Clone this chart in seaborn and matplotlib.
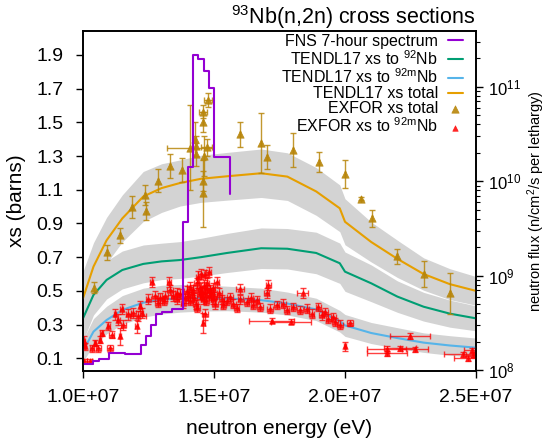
import numpy as np
import matplotlib
matplotlib.use('Agg')
import matplotlib.pyplot as plt
import seaborn as sns
from matplotlib.ticker import FuncFormatter, LogLocator, NullFormatter, MultipleLocator

# FNS 7-hour spectrum (bin edges in MeV, flux per lethargy)
fns_edges = [10.0, 10.4, 10.6, 11.0, 11.6, 12.2, 12.4, 12.6, 12.8, 13.0,
             13.4, 13.8, 14.0, 14.2, 14.4, 14.6, 14.8, 15.0, 15.6]
fns_flux = [1.16e8, 1.25e8, 1.32e8, 1.50e8, 1.46e8, 1.84e8, 2.29e8, 3.0e8,
            3.92e8, 4.15e8, 4.43e8, 3.72e9, 1.43e10, 2.17e11, 1.95e11,
            1.48e11, 9.6e10, 1.82e10, 7.4e9]

# TENDL17 curves (MeV, barns) and relative uncertainty
tendl_e = [10.0, 10.4, 10.9, 11.5, 12.3, 13.0, 13.7, 14.5, 15.5, 16.8,
           17.8, 18.9, 19.8, 20.0, 21.0, 22.0, 23.0, 24.0, 25.0]
xs_total = [0.456, 0.644, 0.80, 0.93, 1.06, 1.11, 1.14, 1.165, 1.18, 1.198,
            1.178, 1.09, 0.99, 0.91, 0.79, 0.69, 0.60, 0.54, 0.50]
xs_92 = [0.337, 0.476, 0.565, 0.624, 0.66, 0.675, 0.683, 0.70, 0.725, 0.753,
         0.75, 0.725, 0.664, 0.614, 0.545, 0.466, 0.406, 0.365, 0.337]
xs_92m = [0.145, 0.258, 0.327, 0.387, 0.43, 0.448, 0.456, 0.458, 0.455, 0.445,
          0.425, 0.39, 0.32, 0.295, 0.25, 0.22, 0.193, 0.176, 0.163]
unc_total = [0.35, 0.22, 0.17, 0.15, 0.14, 0.13, 0.12, 0.12, 0.12, 0.12,
             0.12, 0.13, 0.14, 0.15, 0.15, 0.16, 0.16, 0.17, 0.17]
unc_92 = [0.40, 0.25, 0.20, 0.18, 0.17, 0.16, 0.16, 0.16, 0.16, 0.16,
          0.16, 0.17, 0.18, 0.19, 0.20, 0.20, 0.21, 0.22, 0.22]
unc_92m = [0.45, 0.30, 0.25, 0.22, 0.20, 0.19, 0.18, 0.17, 0.16, 0.16,
           0.16, 0.17, 0.20, 0.22, 0.25, 0.28, 0.30, 0.33, 0.35]

# EXFOR total (MeV, barns, dxs, dE)
tot_e = [10.42, 10.90, 11.41, 11.87, 12.38, 12.40, 12.85, 13.32, 13.79, 14.08,
         14.27, 14.30, 14.30, 14.59, 14.78, 14.59, 14.72, 14.62, 14.59, 14.59,
         15.99, 16.79, 17.01, 18.00, 19.01, 20.00, 20.60, 21.02, 22.00, 23.02,
         24.00]
tot_xs = [0.52, 0.73, 0.83, 1.00, 1.067, 0.974, 1.154, 1.241, 1.217, 1.35,
          1.40, 1.36, 1.31, 1.563, 1.633, 1.50, 1.352, 1.30, 1.154, 1.079,
          1.43, 1.38, 1.296, 1.336, 1.265, 1.193, 1.047, 0.931, 0.705, 0.60,
          0.486]
tot_dxs = [0.035, 0.045, 0.045, 0.065, 0.06, 0.055, 0.07, 0.07, 0.07, 0.25,
           0.10, 0.06, 0.07, 0.04, 0.04, 0.06, 0.05, 0.12, 0.06, 0.20,
           0.074, 0.178, 0.071, 0.10, 0.062, 0.083, 0.01, 0.05, 0.045, 0.076,
           0.122]
tot_de = [0, 0, 0, 0, 0, 0, 0, 0, 0, 0.89,
          0, 0, 0, 0.15, 0.15, 0, 0.2, 0, 0, 0,
          0, 0, 0, 0, 0, 0, 0, 0, 0, 0,
          0]

# EXFOR 92mNb (MeV, barns, dE, dxs)
m_e = [10.05, 10.25, 10.02, 10.08, 10.33, 10.46, 10.58, 10.65, 10.71, 10.97,
       11.03, 11.10, 11.22, 11.35, 11.41, 11.48, 11.54, 11.73, 11.92, 12.05,
       12.11, 12.18, 12.24, 12.49, 12.62, 12.75, 12.94, 13.13, 13.29, 13.32,
       13.45, 13.58, 13.70, 13.83, 13.96, 14.08, 14.21, 14.34, 14.40, 14.47,
       14.59, 14.66, 14.72, 14.66, 14.59, 14.85, 14.97, 15.10, 15.04, 13.90,
       14.00, 14.10, 14.15, 14.25, 14.30, 14.45, 14.50, 14.55, 14.60, 14.65,
       14.70, 14.75, 14.80, 14.80, 14.90, 14.95, 15.00, 14.50, 13.60, 13.10,
       12.85, 14.35, 15.20, 15.30, 15.36, 15.61, 15.74, 15.99, 15.87, 16.25,
       16.50, 16.63, 16.76, 17.01, 17.07, 17.14, 17.39, 17.65, 17.77, 18.03,
       18.28, 18.38, 18.54, 18.73, 18.98, 19.11, 19.24, 19.36, 19.56, 19.62,
       19.81, 17.20, 17.95, 20.00, 20.19, 21.59, 21.60, 22.10, 22.48, 22.67,
       24.52, 24.71, 24.90, 24.85, 15.50, 16.00, 16.40]
m_xs = [0.085, 0.085, 0.20, 0.17, 0.16, 0.19, 0.16, 0.21, 0.25, 0.29,
        0.16, 0.24, 0.36, 0.33, 0.23, 0.39, 0.30, 0.36, 0.37, 0.29,
        0.35, 0.41, 0.37, 0.45, 0.555, 0.47, 0.46, 0.47, 0.555, 0.505,
        0.47, 0.45, 0.48, 0.43, 0.50, 0.525, 0.505, 0.545, 0.585, 0.48,
        0.45, 0.595, 0.545, 0.36, 0.31, 0.505, 0.45, 0.555, 0.42, 0.455,
        0.47, 0.44, 0.48, 0.46, 0.42, 0.52, 0.50, 0.47, 0.53, 0.49,
        0.44, 0.51, 0.47, 0.61, 0.49, 0.52, 0.47, 0.60, 0.49, 0.44,
        0.43, 0.40, 0.49, 0.45, 0.415, 0.465, 0.425, 0.51, 0.40, 0.435,
        0.415, 0.445, 0.405, 0.49, 0.535, 0.395, 0.415, 0.425, 0.385, 0.405,
        0.385, 0.485, 0.395, 0.365, 0.405, 0.355, 0.375, 0.335, 0.345, 0.315,
        0.30, 0.323, 0.317, 0.17, 0.31, 0.153, 0.13, 0.159, 0.232, 0.153,
        0.124, 0.10, 0.12, 0.149, 0.44, 0.45, 0.46]
m_de = [0.1, 0.1, 0.05, 0.05, 0.08, 0.05, 0.1, 0.05, 0.05, 0.05,
        0.1, 0.1, 0.05, 0.05, 0.05, 0.05, 0.1, 0.1, 0.1, 0.05,
        0.3, 0.05, 0.05, 0.1, 0.07, 0.1, 0.1, 0.1, 0.07, 0.1,
        0.1, 0.1, 0.1, 0.1, 0.1, 0.1, 0.1, 0.1, 0.1, 0.1,
        0.1, 0.1, 0.1, 0.1, 0.05, 0.1, 0.1, 0.1, 0.1, 0.1,
        0.1, 0.1, 0.1, 0.1, 0.1, 0.1, 0.1, 0.1, 0.1, 0.1,
        0.1, 0.1, 0.1, 0.1, 0.1, 0.1, 0.1, 0.1, 0.1, 0.1,
        0.1, 0.1, 0.1, 0.1, 0.1, 0.1, 0.1, 0.15, 0.1, 0.1,
        0.1, 0.1, 0.1, 0.1, 0.1, 0.1, 0.1, 0.1, 0.1, 0.1,
        0.1, 0.2, 0.1, 0.1, 0.1, 0.1, 0.1, 0.1, 0.1, 0.1,
        0.1, 0.85, 0.76, 0.03, 0.1, 0.75, 0.75, 0.6, 0.76, 0.5,
        0.75, 0.55, 0.3, 0.3, 0.1, 0.1, 0.1]
m_dxs = [0.01, 0.01, 0.03, 0.02, 0.02, 0.02, 0.02, 0.02, 0.02, 0.025,
         0.02, 0.02, 0.03, 0.03, 0.05, 0.03, 0.03, 0.03, 0.03, 0.04,
         0.03, 0.03, 0.03, 0.03, 0.03, 0.03, 0.03, 0.03, 0.03, 0.03,
         0.03, 0.03, 0.03, 0.03, 0.03, 0.03, 0.03, 0.03, 0.03, 0.03,
         0.03, 0.03, 0.03, 0.03, 0.06, 0.03, 0.03, 0.03, 0.03, 0.025,
         0.025, 0.025, 0.025, 0.025, 0.025, 0.025, 0.025, 0.025, 0.025, 0.025,
         0.025, 0.025, 0.025, 0.03, 0.025, 0.025, 0.025, 0.03, 0.025, 0.025,
         0.025, 0.025, 0.025, 0.025, 0.025, 0.025, 0.025, 0.03, 0.025, 0.025,
         0.025, 0.025, 0.025, 0.03, 0.03, 0.025, 0.025, 0.025, 0.025, 0.025,
         0.025, 0.03, 0.025, 0.025, 0.025, 0.025, 0.025, 0.025, 0.025, 0.025,
         0.025, 0.015, 0.015, 0.025, 0.02, 0.02, 0.015, 0.015, 0.02, 0.015,
         0.015, 0.015, 0.015, 0.015, 0.025, 0.025, 0.025]

sns.set_theme(style='ticks')
plt.rcParams['font.family'] = ['Liberation Sans', 'DejaVu Sans']
plt.rcParams['mathtext.fontset'] = 'custom'
plt.rcParams['mathtext.rm'] = 'Liberation Sans'
plt.rcParams['mathtext.it'] = 'Liberation Sans:italic'
plt.rcParams['mathtext.bf'] = 'Liberation Sans:bold'
for k in ['text.color', 'axes.labelcolor', 'xtick.color', 'ytick.color', 'axes.edgecolor']:
    plt.rcParams[k] = 'black'

c_fns = '#9400d3'
c_92 = '#009e73'
c_92m = '#56b4e9'
c_tot = '#e69f00'
c_extot = '#b8860b'
c_exm = '#ff0000'
grey = '#d3d3d3'

fig = plt.figure(figsize=(5.48, 4.47), dpi=100)
ax = fig.add_axes([83 / 548, 1 - 371 / 447, 393 / 548, 340 / 447])

te = np.array(tendl_e) * 1e6
for ys, un in [(xs_total, unc_total), (xs_92, unc_92), (xs_92m, unc_92m)]:
    ys = np.array(ys)
    un = np.array(un)
    ax.fill_between(te, ys * (1 - un), ys * (1 + un), color=grey, lw=0, zorder=1)

sns.lineplot(x=te, y=xs_92, color=c_92, lw=1.5, ax=ax, legend=False,
             label=r'TENDL17 xs to $^{92}$Nb', zorder=3)
sns.lineplot(x=te, y=xs_92m, color=c_92m, lw=1.5, ax=ax, legend=False,
             label=r'TENDL17 xs to $^{92\mathrm{m}}$Nb', zorder=3)
sns.lineplot(x=te, y=xs_total, color=c_tot, lw=1.5, ax=ax, legend=False,
             label='TENDL17 xs total', zorder=3)

ax.errorbar(np.array(tot_e) * 1e6, tot_xs, yerr=tot_dxs, xerr=np.array(tot_de) * 1e6,
            fmt='none', ecolor=c_extot, elinewidth=1, capsize=2.5, alpha=0.85, zorder=4)
sns.scatterplot(x=np.array(tot_e) * 1e6, y=tot_xs, marker='^', s=28, color=c_extot,
                edgecolor=c_extot, linewidth=0.5, alpha=0.9, ax=ax, legend=False,
                label='EXFOR xs total', zorder=5)
ax.errorbar(np.array(m_e) * 1e6, m_xs, yerr=m_dxs, xerr=np.array(m_de) * 1e6,
            fmt='none', ecolor=c_exm, elinewidth=1, capsize=2.5, alpha=0.75, zorder=4)
sns.scatterplot(x=np.array(m_e) * 1e6, y=m_xs, marker='^', s=16, color=c_exm,
                edgecolor=c_exm, linewidth=0.4, alpha=0.85, ax=ax, legend=False,
                label=r'EXFOR xs to $^{92\mathrm{m}}$Nb', zorder=5)

ax.set_xlim(1e7, 2.5e7)
ax.set_ylim(0.0246, 2.042)
ax.set_xticks([1.0e7, 1.5e7, 2.0e7, 2.5e7])
ax.xaxis.set_major_formatter(FuncFormatter(lambda v, p: f'{v:.1E}'))
ax.yaxis.set_major_locator(MultipleLocator(0.2, offset=0.1))
ax.yaxis.set_major_formatter(FuncFormatter(lambda v, p: f'{v:.1f}'))
ax.tick_params(axis='both', direction='out', length=5, width=1, labelsize=14)
ax.tick_params(axis='y', pad=9)
ax.tick_params(axis='x', pad=8)
ax.set_xlabel('neutron energy (eV)', fontsize=15)
ax.set_ylabel('xs (barns)', fontsize=15)
ax.xaxis.set_label_coords(0.5, -0.14)
ax.yaxis.set_label_coords(-0.145, 0.5)
for s in ax.spines.values():
    s.set_linewidth(1.2)

ax2 = ax.twinx()
ax2.step(np.array(fns_edges) * 1e6, fns_flux, where='post', color=c_fns, lw=1.5,
         label='FNS 7-hour spectrum', zorder=2)
ax2.set_yscale('log')
ax2.set_ylim(0.976e8, 3.9e11)
ax2.yaxis.set_major_locator(LogLocator(base=10))
ax2.yaxis.set_minor_locator(LogLocator(base=10, subs=np.arange(2, 10)))
ax2.yaxis.set_minor_formatter(NullFormatter())
ax2.tick_params(axis='y', which='major', direction='out', length=5, width=1,
                labelsize=12, pad=4)
ax2.tick_params(axis='y', which='minor', direction='out', length=3, width=0.8)
ax2.set_ylabel('neutron flux (n/cm$^2$/s per lethargy)', fontsize=10.5)
ax2.yaxis.set_label_coords(1.125, 0.5)
for s in ax2.spines.values():
    s.set_linewidth(1.2)

ax2.set_title(r'$^{93}$Nb(n,2n) cross sections', loc='right', fontsize=15.5, pad=3)

h2, l2 = ax2.get_legend_handles_labels()
h1, l1 = ax.get_legend_handles_labels()
leg = ax2.legend(h2 + h1, l2 + l1, loc='upper right', bbox_to_anchor=(0.967, 0.991),
                 frameon=False, markerfirst=False, fontsize=11.5, handlelength=0.95,
                 handletextpad=0.6, labelspacing=0.0, borderpad=0, borderaxespad=0)

fig.savefig('out.png', dpi=100)
